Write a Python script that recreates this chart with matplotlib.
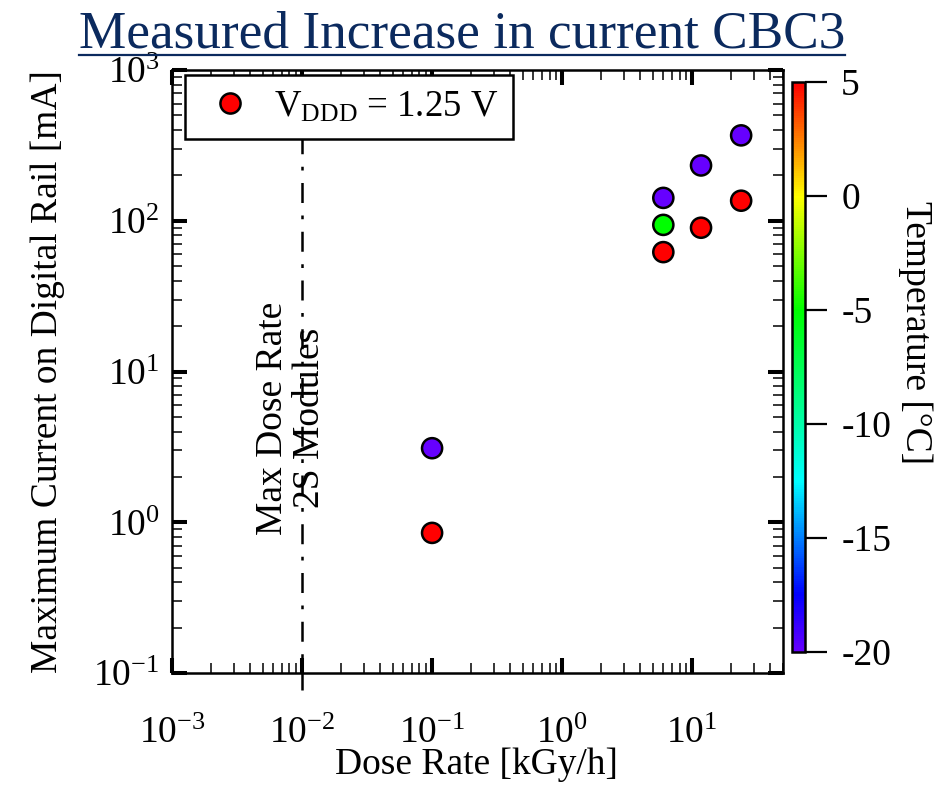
#!/usr/bin/env python3
"""Measured increase in digital rail current of the CBC3 versus dose rate."""

import matplotlib
matplotlib.use("Agg")
import matplotlib.pyplot as plt
from matplotlib.colors import LinearSegmentedColormap, Normalize
from matplotlib.lines import Line2D
from matplotlib.ticker import LogLocator, NullFormatter

plt.rcParams['font.family'] = ['Liberation Serif', 'DejaVu Serif']
plt.rcParams['mathtext.fontset'] = 'custom'
plt.rcParams['mathtext.rm'] = 'Liberation Serif'
plt.rcParams['mathtext.it'] = 'Liberation Serif:italic'
plt.rcParams['axes.unicode_minus'] = False

# Measurements: dose rate [kGy/h], max current [mA], temperature [C]
dose_rate = [0.1, 0.1, 6.0, 6.0, 6.0, 11.7, 11.7, 23.8, 23.8]
current = [3.1, 0.85, 142, 94, 62, 233, 90, 369, 136]
temperature = [-20, 5, -20, -5, 5, -20, 5, -20, 5]

max_dose_2s = 0.01
legend_label = r'V$_{\mathrm{DDD}}$ = 1.25 V'
cbar_ticks = [5, 0, -5, -10, -15, -20]

# Rainbow palette, violet at the cold end and red at the warm end
palette = LinearSegmentedColormap.from_list('temp', [
    (0.0, (0.40, 0.0, 1.0)),
    (0.1, (0.0, 0.0, 1.0)),
    (0.3, (0.0, 1.0, 1.0)),
    (0.6, (0.0, 1.0, 0.0)),
    (0.8, (1.0, 1.0, 0.0)),
    (1.0, (1.0, 0.0, 0.0)),
])
norm = Normalize(vmin=-20, vmax=5)

fig = plt.figure(figsize=(9.43, 7.87), dpi=100)
ax = fig.add_axes([0.1824, 0.1449, 0.648, 0.766])

ax.set_xscale('log')
ax.set_yscale('log')
ax.set_xlim(1e-3, 50)
ax.set_ylim(1e-1, 1e3)

# Max dose rate marker for the 2S modules
ax.plot([max_dose_2s, max_dose_2s], [0.077, 1000], color='black', lw=1.8,
        ls=(0, (8, 5, 1.5, 5)), clip_on=False, zorder=1)
ax.text(0.0082, 4.9, 'Max Dose Rate\n2S Modules', rotation=90, fontsize=27,
        ha='center', va='center', multialignment='center', linespacing=1.1)

ax.scatter(dose_rate, current, c=temperature, cmap=palette, norm=norm,
           s=210, edgecolors='black', linewidths=1.8, zorder=3)

ax.set_xlabel('Dose Rate [kGy/h]', fontsize=27, va='center')
ax.xaxis.set_label_coords(0.499, -0.153)
ax.set_ylabel('Maximum Current on Digital Rail [mA]', fontsize=27, va='center')
ax.yaxis.set_label_coords(-0.203, 0.5)

for spine in ax.spines.values():
    spine.set_linewidth(1.8)

ax.xaxis.set_major_locator(LogLocator(base=10, numticks=10))
ax.yaxis.set_major_locator(LogLocator(base=10, numticks=10))
ax.xaxis.set_minor_locator(LogLocator(base=10, subs=range(2, 10), numticks=20))
ax.yaxis.set_minor_locator(LogLocator(base=10, subs=range(2, 10), numticks=20))
ax.xaxis.set_minor_formatter(NullFormatter())
ax.yaxis.set_minor_formatter(NullFormatter())
ax.tick_params(which='both', direction='in', top=True, right=True)
ax.tick_params(which='major', length=11, width=2.9, labelsize=27)
ax.tick_params(axis='x', which='major', pad=31)
ax.tick_params(axis='y', which='major', pad=9)
ax.tick_params(which='minor', length=7.5, width=1.1)

legend_handle = Line2D([0], [0], marker='o', ls='none', markersize=14.5,
                       markerfacecolor='red', markeredgecolor='black',
                       markeredgewidth=1.8)
leg = ax.legend([legend_handle], [legend_label], loc='upper left',
                fontsize=26.5, frameon=True, fancybox=False, framealpha=1,
                borderpad=0.4, handlelength=1.6, handletextpad=0.4,
                borderaxespad=0.0, bbox_to_anchor=(0.022, 0.992))
leg.get_frame().set_edgecolor('black')
leg.get_frame().set_linewidth(1.8)
leg.set_zorder(5)

# Colour bar
cax = fig.add_axes([0.840, 0.1716, 0.0138, 0.724])
sm = plt.cm.ScalarMappable(cmap=palette, norm=norm)
cbar = fig.colorbar(sm, cax=cax, ticks=cbar_ticks)
cbar.outline.set_linewidth(1.8)
cbar.ax.tick_params(length=16, width=1.6, labelsize=27, pad=10)
cbar.set_label('Temperature [\u00b0C]', fontsize=27, rotation=270, va='center')
cbar.ax.yaxis.set_label_coords(9.45, 0.56)
cbar.ax.minorticks_off()

# Underlined title
title = fig.text(0.49, 0.956, 'Measured Increase in current CBC3',
                 fontsize=38.3, color='#0b2a5e', ha='center', va='center')
fig.canvas.draw()
bb = title.get_window_extent().transformed(fig.transFigure.inverted())
fig.add_artist(Line2D([bb.x0, bb.x1], [bb.y0 + 0.004, bb.y0 + 0.004],
                      transform=fig.transFigure, color='#0b2a5e', lw=1.6))

fig.savefig('out.png', dpi=100)
